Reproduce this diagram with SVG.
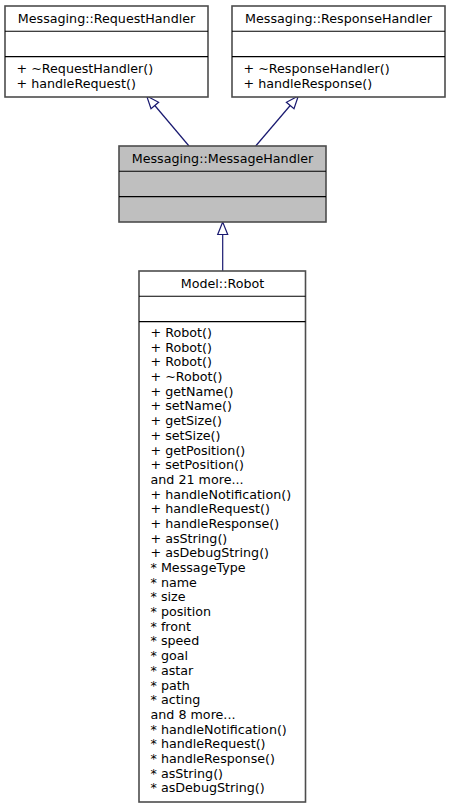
<svg xmlns="http://www.w3.org/2000/svg" width="450" height="808" viewBox="0 0 450 808">
<style>
text { font-family: "DejaVu Sans", sans-serif; font-size: 12.7px; fill: #000; }
.title { text-anchor: middle; }
.box { fill: #fff; stroke: #4d4d4d; stroke-width: 1.6; }
.hl { fill: #bfbfbf; }
.div { stroke: #000; stroke-width: 1.1; }
.edge { stroke: #191970; stroke-width: 1.2; fill: none; }
.head { fill: #fff; stroke: #191970; stroke-width: 1.2; }
</style>
<rect width="450" height="808" fill="#fff"/>
<g id="connectors">
  <line class="edge" x1="189" y1="146" x2="154.8" y2="105.5"/>
  <polygon class="head" points="146.7,96 151,108.7 158.6,102.3"/>
  <line class="edge" x1="255.7" y1="146" x2="290.2" y2="105.5"/>
  <polygon class="head" points="298.3,96 294,108.7 286.4,102.3"/>
  <line class="edge" x1="222.7" y1="271" x2="222.7" y2="234"/>
  <polygon class="head" points="222.7,222 217.7,234.5 227.7,234.5"/>
</g>
<g id="RequestHandler">
  <rect class="box" x="5" y="6" width="203" height="91"/>
  <line class="div" x1="5" y1="31.3" x2="208" y2="31.3"/>
  <line class="div" x1="5" y1="56.6" x2="208" y2="56.6"/>
  <text class="title" x="106.5" y="22.5">Messaging::RequestHandler</text>
  <text x="16.5" y="72.8">+ ~RequestHandler()</text>
  <text x="16.5" y="87.5">+ handleRequest()</text>
</g>
<g id="ResponseHandler">
  <rect class="box" x="232" y="6" width="213" height="91"/>
  <line class="div" x1="232" y1="31.3" x2="445" y2="31.3"/>
  <line class="div" x1="232" y1="56.6" x2="445" y2="56.6"/>
  <text class="title" x="338.5" y="22.5">Messaging::ResponseHandler</text>
  <text x="243.5" y="72.8">+ ~ResponseHandler()</text>
  <text x="243.5" y="87.5">+ handleResponse()</text>
</g>
<g id="MessageHandler">
  <rect class="box hl" x="119" y="146" width="207" height="76"/>
  <line class="div" x1="119" y1="171.3" x2="326" y2="171.3"/>
  <line class="div" x1="119" y1="196.6" x2="326" y2="196.6"/>
  <text class="title" x="222.5" y="162.5">Messaging::MessageHandler</text>
</g>
<g id="Robot">
  <rect class="box" x="139" y="271" width="166.5" height="531"/>
  <line class="div" x1="139" y1="296.3" x2="305.5" y2="296.3"/>
  <line class="div" x1="139" y1="321.6" x2="305.5" y2="321.6"/>
  <text class="title" x="222.5" y="287.5">Model::Robot</text>
  <text x="150.5" y="337">
    <tspan x="150.5" dy="0">+ Robot()</tspan>
    <tspan x="150.5" dy="14.69">+ Robot()</tspan>
    <tspan x="150.5" dy="14.69">+ Robot()</tspan>
    <tspan x="150.5" dy="14.69">+ ~Robot()</tspan>
    <tspan x="150.5" dy="14.69">+ getName()</tspan>
    <tspan x="150.5" dy="14.69">+ setName()</tspan>
    <tspan x="150.5" dy="14.69">+ getSize()</tspan>
    <tspan x="150.5" dy="14.69">+ setSize()</tspan>
    <tspan x="150.5" dy="14.69">+ getPosition()</tspan>
    <tspan x="150.5" dy="14.69">+ setPosition()</tspan>
    <tspan x="150.5" dy="14.69">and 21 more...</tspan>
    <tspan x="150.5" dy="14.69">+ handleNotification()</tspan>
    <tspan x="150.5" dy="14.69">+ handleRequest()</tspan>
    <tspan x="150.5" dy="14.69">+ handleResponse()</tspan>
    <tspan x="150.5" dy="14.69">+ asString()</tspan>
    <tspan x="150.5" dy="14.69">+ asDebugString()</tspan>
    <tspan x="150.5" dy="14.69">* MessageType</tspan>
    <tspan x="150.5" dy="14.69">* name</tspan>
    <tspan x="150.5" dy="14.69">* size</tspan>
    <tspan x="150.5" dy="14.69">* position</tspan>
    <tspan x="150.5" dy="14.69">* front</tspan>
    <tspan x="150.5" dy="14.69">* speed</tspan>
    <tspan x="150.5" dy="14.69">* goal</tspan>
    <tspan x="150.5" dy="14.69">* astar</tspan>
    <tspan x="150.5" dy="14.69">* path</tspan>
    <tspan x="150.5" dy="14.69">* acting</tspan>
    <tspan x="150.5" dy="14.69">and 8 more...</tspan>
    <tspan x="150.5" dy="14.69">* handleNotification()</tspan>
    <tspan x="150.5" dy="14.69">* handleRequest()</tspan>
    <tspan x="150.5" dy="14.69">* handleResponse()</tspan>
    <tspan x="150.5" dy="14.69">* asString()</tspan>
    <tspan x="150.5" dy="14.69">* asDebugString()</tspan>
  </text>
</g>
</svg>
